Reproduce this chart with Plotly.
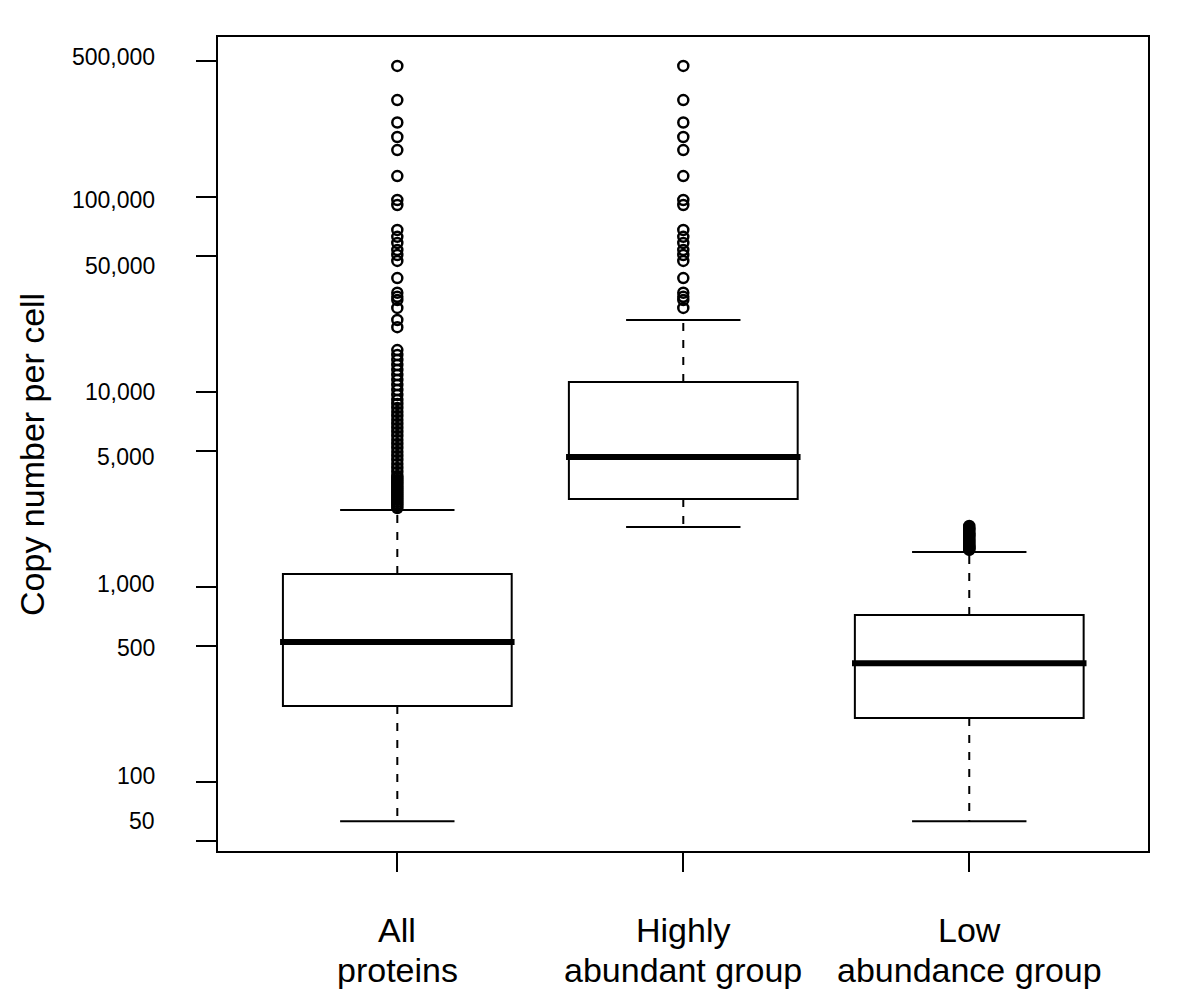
import math
import plotly.graph_objects as go

# ---------------- data ----------------
group_labels = ["All<br>proteins", "Highly<br>abundant group", "Low<br>abundance group"]
positions = [1, 2, 3]

lower_whisker = [63, 2031, 63]
q1 = [245, 2827, 213]
median = [522, 4642, 407]
q3 = [1166, 11253, 718]
upper_whisker = [2483, 23392, 1512]

outliers_all = [
    470000, 314000, 241000, 203000, 174000, 128000, 96500, 91000,
    67700, 62500, 58100, 53500, 50400, 47000, 38400, 32300, 30800,
    29600, 27000, 23400, 21500,
    16400, 15490, 14590, 13750, 12960, 12220, 11520, 10860, 10240, 9650,
    9100, 8680, 8280, 7890, 7530, 7180, 6850, 6540, 6240, 5950, 5670,
    5410, 5160, 4920, 4700, 4480, 4270, 4080, 3890, 3710,
    3623, 3540, 3455, 3380, 3296, 3220, 3143, 3070, 2998, 2930, 2860,
    2795, 2728, 2665, 2602, 2540,
]
outliers_high = [
    470000, 314000, 241000, 203000, 174000, 128000, 96500, 91000,
    67700, 62500, 58100, 53500, 50400, 47000, 38400, 32300, 30800,
    29600, 27000,
]
outliers_low = [
    1550, 1565, 1580, 1600, 1615, 1630, 1650, 1670, 1690, 1710, 1730,
    1750, 1775, 1800, 1825, 1850, 1875, 1900, 1930, 1960, 1990, 2020, 2055,
]

ytick_vals = [50, 100, 500, 1000, 5000, 10000, 50000, 100000, 500000]
ytick_text = ["50", "100", "500", "1,000", "5,000", "10,000", "50,000", "100,000", "500,000"]
y_title = "Copy number per cell"

# ---------------- style constants ----------------
FONT = "Liberation Sans, Arial, Helvetica, sans-serif"
BOX_W = 0.8          # box width in x units
CAP_HALF = 0.2       # whisker staple half-width
MED_HALF = 0.41      # median half-width (slightly beyond the box)
ytick_label_shift = [20, 6, -2, 3, -6, 0, -10, -3, 4]  # manual label offsets (px)
xlabel_line_shift = [-79, -119]                          # px below the axis

fig = go.Figure()

# boxes (quartiles only; whiskers drawn separately as dashed lines)
fig.add_trace(go.Box(
    x=positions, q1=q1, median=median, q3=q3,
    lowerfence=q1, upperfence=q3,
    width=BOX_W, whiskerwidth=0,
    line=dict(color="black", width=2),
    fillcolor="rgba(0,0,0,0)",
    boxpoints=False, hoverinfo="skip", showlegend=False,
))

# dashed whiskers
wx, wy = [], []
for p, a, b, c, d in zip(positions, lower_whisker, q1, q3, upper_whisker):
    wx += [p, p, None, p, p, None]
    wy += [b, a, None, c, d, None]
fig.add_trace(go.Scatter(x=wx, y=wy, mode="lines",
                         line=dict(color="black", width=2, dash="8px,9px"),
                         showlegend=False, hoverinfo="skip"))

# whisker staples
cx, cy = [], []
for p, a, d in zip(positions, lower_whisker, upper_whisker):
    cx += [p - CAP_HALF, p + CAP_HALF, None, p - CAP_HALF, p + CAP_HALF, None]
    cy += [a, a, None, d, d, None]
fig.add_trace(go.Scatter(x=cx, y=cy, mode="lines",
                         line=dict(color="black", width=2),
                         showlegend=False, hoverinfo="skip"))

# thick medians
mx, my = [], []
for p, m in zip(positions, median):
    mx += [p - MED_HALF, p + MED_HALF, None]
    my += [m, m, None]
fig.add_trace(go.Scatter(x=mx, y=my, mode="lines",
                         line=dict(color="black", width=6),
                         showlegend=False, hoverinfo="skip"))

# outliers
for p, outs in zip(positions, [outliers_all, outliers_high, outliers_low]):
    fig.add_trace(go.Scatter(
        x=[p] * len(outs), y=outs, mode="markers",
        marker=dict(symbol="circle-open", size=10, color="black",
                    line=dict(width=2.5, color="black")),
        showlegend=False, hoverinfo="skip"))

annotations = []
# y tick labels (annotation y on a log axis is given in log10 units)
for v, t, s in zip(ytick_vals, ytick_text, ytick_label_shift):
    annotations.append(dict(
        x=0, xref="paper", xanchor="right", xshift=-61,
        y=math.log10(v), yref="y", yanchor="middle", yshift=s,
        text=t, showarrow=False,
        font=dict(family=FONT, size=23, color="black")))
# x category labels, one annotation per text line
for p, t in zip(positions, group_labels):
    for line, sh in zip(t.split("<br>"), xlabel_line_shift):
        annotations.append(dict(
            x=p, xref="x", xanchor="center",
            y=0, yref="paper", yanchor="middle", yshift=sh,
            text=line, showarrow=False,
            font=dict(family=FONT, size=34, color="black")))
# y axis title
annotations.append(dict(
    x=0, xref="paper", xanchor="center", xshift=-186,
    y=0.4865, yref="paper", yanchor="middle",
    text=y_title, textangle=-90, showarrow=False,
    font=dict(family=FONT, size=34, color="black")))

# the page adds an 8px body margin, so the margins are shifted to compensate
fig.update_layout(
    width=1200, height=1003,
    margin=dict(l=210, r=60, t=29, b=160),
    paper_bgcolor="white", plot_bgcolor="white",
    showlegend=False,
    font=dict(family=FONT, color="black"),
    annotations=annotations,
    xaxis=dict(
        range=[0.373, 3.625], tickvals=positions, showticklabels=False,
        ticks="outside", ticklen=19, tickwidth=2, tickcolor="black",
        showline=True, linewidth=2, linecolor="black", mirror=True,
        showgrid=False, zeroline=False,
    ),
    yaxis=dict(
        type="log", range=[1.6462, 5.8205],
        tickvals=ytick_vals, showticklabels=False,
        ticks="outside", ticklen=20, tickwidth=2, tickcolor="black",
        showline=True, linewidth=2, linecolor="black", mirror=True,
        showgrid=False, zeroline=False,
    ),
)

fig.write_html("out.html")
